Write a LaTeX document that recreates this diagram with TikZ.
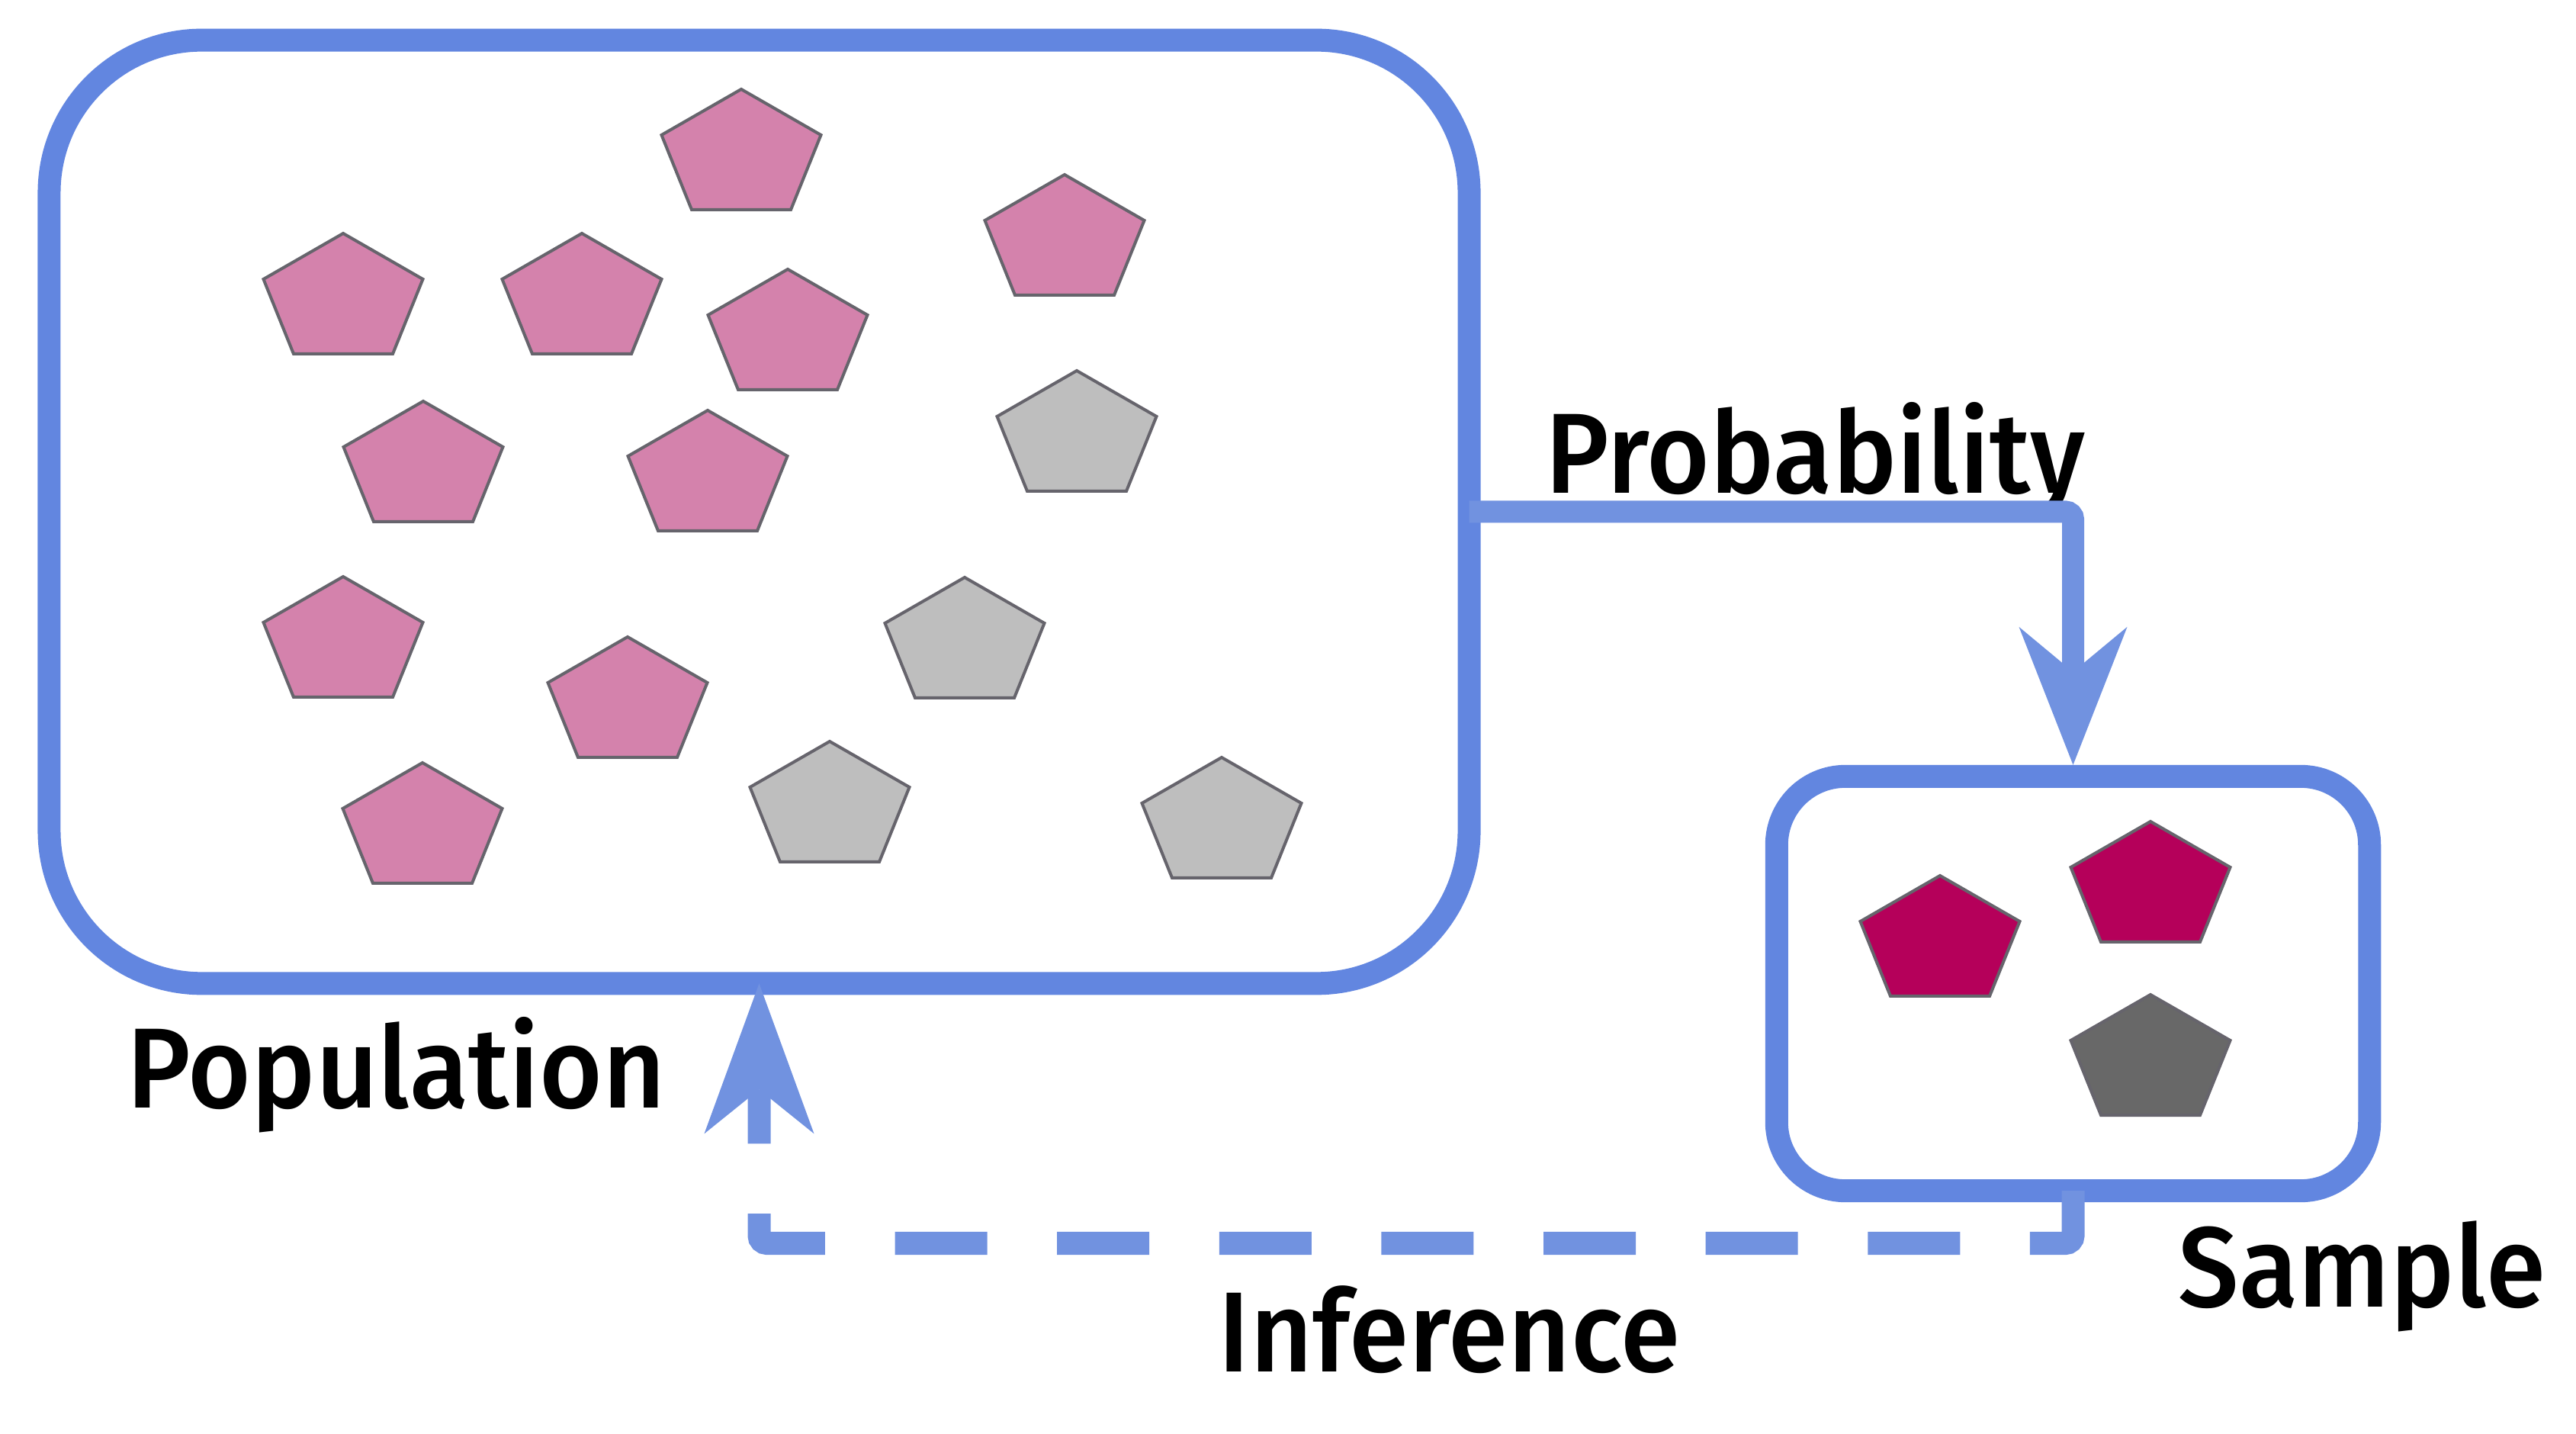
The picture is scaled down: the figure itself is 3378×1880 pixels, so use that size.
\documentclass[tikz,border=0pt]{standalone}
\usepackage{fontspec}
\setmainfont{Fira Sans}
\newfontfamily\lblfont{Fira Sans Medium}[FakeStretch=0.95]
\usetikzlibrary{calc}
\definecolor{boxblue}{RGB}{98,134,224}
\definecolor{connblue}{RGB}{113,146,224}
\definecolor{pinkc}{RGB}{212,130,172}
\definecolor{greyc}{RGB}{190,190,190}
\definecolor{magc}{RGB}{181,0,90}
\definecolor{dgreyc}{RGB}{104,104,104}
\definecolor{edgec}{RGB}{102,100,108}
\begin{document}
\begin{tikzpicture}[x=0.01cm,y=-0.01cm,
  bigbox/.style={draw=boxblue, line width=0.3cm, rounded corners=2cm, inner sep=0pt, outer sep=0pt, minimum width=18.61cm, minimum height=12.36cm},
  smallbox/.style={draw=boxblue, line width=0.3cm, rounded corners=0.9cm, inner sep=0pt, outer sep=0pt, minimum width=7.77cm, minimum height=5.43cm},
  conn/.style={draw=connblue, line width=0.29cm, rounded corners=0.1cm},
  headfill/.style={fill=connblue},
  lbl/.style={font=\lblfont\fontsize{42.5pt}{51pt}\selectfont, anchor=base west, inner sep=0pt, text=black},
  pics/pent/.style={code={\filldraw[fill=#1, draw=edgec, line width=0.04cm] (0,0) -- (104.5,60) -- (65,158) -- (-65,158) -- (-104.5,60) -- cycle;}}
]
\useasboundingbox (0,0) rectangle (3378,1880);
\fill[white] (0,0) rectangle (3378,1880);

% boxes
\node[bigbox] (pop) at (995.5,671) {};
\node[smallbox] (samp) at (2718.5,1289.5) {};

% population pentagons
\pic at (972,117) {pent=pinkc};
\pic at (1396,229) {pent=pinkc};
\pic at (450,306) {pent=pinkc};
\pic at (763,306) {pent=pinkc};
\pic at (1033,353) {pent=pinkc};
\pic at (1412,486) {pent=greyc};
\pic at (555,526) {pent=pinkc};
\pic at (928,538) {pent=pinkc};
\pic at (450,756) {pent=pinkc};
\pic at (1265,757) {pent=greyc};
\pic at (823,835) {pent=pinkc};
\pic at (554,1000) {pent=pinkc};
\pic at (1088,972) {pent=greyc};
\pic at (1602,993) {pent=greyc};

% sample pentagons
\pic at (2544,1148) {pent=magc};
\pic at (2820,1077) {pent=magc};
\pic at (2820,1304) {pent=dgreyc};

% labels
\node[lbl] (tprob) at (2026,647) {Probability};
\node[lbl] (tpop) at (166,1453) {Population};
\node[lbl] (tinf) at (1597,1798) {Inference};
\node[lbl] (tsamp) at (2856,1713) {Sample};

% probability connector
\coordinate (ptip) at ([yshift=0.15cm]samp.north);
\draw[conn] (pop.east) -| ($(ptip)+(0,-122)$);
\fill[headfill] (ptip) -- ++(-71,-181) -- ++(71,59) -- ++(71,-59) -- cycle;

% inference connector
\coordinate (itip) at (pop.south);
\coordinate (ilevel) at (0,1630);
\draw[conn, line width=0.3cm, dash pattern=on 1.21cm off 0.915cm] (samp.south) -- (samp.south |- ilevel) -- (itip |- ilevel) -- ($(itip)+(0,139)$);
\fill[headfill] (itip) -- ++(72,197) -- ++(-72,-58) -- ++(-72,58) -- cycle;
\end{tikzpicture}
\end{document}
